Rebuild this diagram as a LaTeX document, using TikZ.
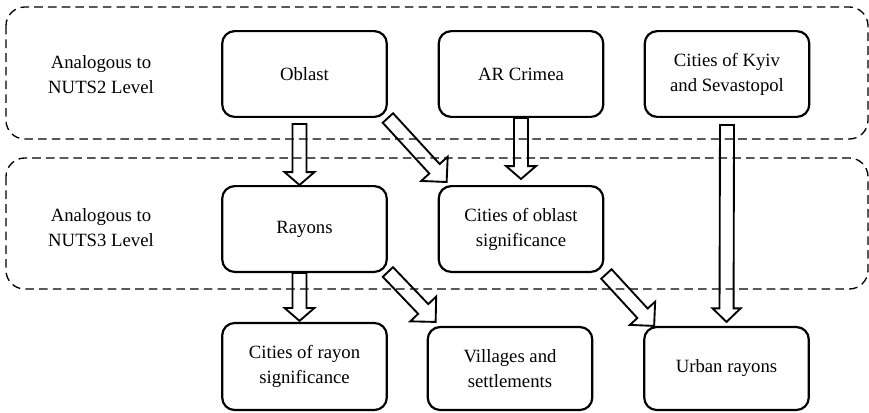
\documentclass[tikz,border=0pt]{standalone}
\usepackage{fontspec}
\setmainfont{Liberation Serif}
\usetikzlibrary{calc}
\begin{document}
\begin{tikzpicture}[x=0.641pt, y=-0.641pt,
    box/.style={draw, line width=1.4pt, rounded corners=8pt, align=center, minimum width=105.5pt, minimum height=55pt, font=\fontsize{12}{16}\selectfont},
    lvltext/.style={align=center, font=\fontsize{12}{16}\selectfont},
    levelframe/.style={draw, dash pattern=on 5.5pt off 3.3pt, line width=0.85pt, rounded corners=12pt},
    hollow/.style={draw, line width=1.2pt, line join=miter}]
    \def\sw{4.5pt}
    \def\hollowarrow#1#2#3#4{%
      \coordinate (ha) at (#1);
      \coordinate (hb) at (#2);
      \coordinate (hc) at ($(hb)!#3!(ha)$);
      \draw[hollow] ($(ha)!\sw!-90:(hb)$) -- ($(hc)!\sw!90:(ha)$) -- ($(hc)!#4!90:(ha)$) -- (hb)
        -- ($(hc)!#4!-90:(ha)$) -- ($(hc)!\sw!-90:(ha)$) -- ($(ha)!\sw!90:(hb)$) -- cycle;}
    \useasboundingbox (0,0) rectangle (869,412);
    \draw[levelframe] (6,7) rectangle (868,139);
    \draw[levelframe] (6,158) rectangle (868,289);
    \node[lvltext] (nuts2) at (101,75) {Analogous to\\NUTS2 Level};
    \node[lvltext] (nuts3) at (101,228) {Analogous to\\NUTS3 Level};
    \node[box] (oblast) at (304.5,74) {Oblast};
    \node[box] (crimea) at (521,74) {AR Crimea};
    \node[box] (kyiv) at (727,74) {Cities of Kyiv\\and Sevastopol};
    \node[box] (rayons) at (304.5,229) {Rayons};
    \node[box] (cob) at (521,229) {Cities of oblast\\significance};
    \node[box, minimum height=55.8pt] (crs) at (304.5,366.5) {Cities of rayon\\significance};
    \node[box, minimum height=53.2pt] (villages) at (510,368.5) {Villages and\\settlements};
    \node[box, minimum height=53.2pt] (urban) at (726.5,368.5) {Urban rayons};
    \hollowarrow{$(oblast.south)+(-5,6)$}{$(rayons.north)+(-5,0)$}{8.3pt}{9.6pt}
    \hollowarrow{oblast.south east}{$(cob.north west)+(9,-3)$}{11.5pt}{11.5pt}
    \hollowarrow{crimea.south}{$(cob.north)+(0,-6)$}{8.3pt}{9.6pt}
    \hollowarrow{$(kyiv.south)+(0,7)$}{$(urban.north)+(0,-4)$}{8.7pt}{9pt}
    \hollowarrow{$(rayons.south)+(-5,0)$}{$(crs.north)+(-5,-1)$}{8.3pt}{9.6pt}
    \hollowarrow{$(rayons.south east)+(0,-1)$}{$(villages.north west)+(9,-4)$}{11.5pt}{11.5pt}
    \hollowarrow{$(cob.south east)+(2,1)$}{$(urban.north west)+(11,0)$}{11pt}{11pt}
\end{tikzpicture}
\end{document}
